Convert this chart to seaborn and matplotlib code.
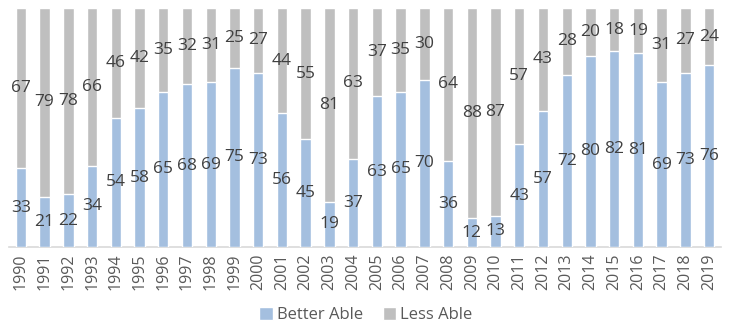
import matplotlib
matplotlib.use("Agg")
import matplotlib.pyplot as plt
import seaborn as sns
import pandas as pd
from matplotlib.patches import Patch

years = [str(y) for y in range(1990, 2020)]
better_able = [33, 21, 22, 34, 54, 58, 65, 68, 69, 75, 73, 56, 45, 19, 37,
               63, 65, 70, 36, 12, 13, 43, 57, 72, 80, 82, 81, 69, 73, 76]
less_able = [67, 79, 78, 66, 46, 42, 35, 32, 31, 25, 27, 44, 55, 81, 63,
             37, 35, 30, 64, 88, 87, 57, 43, 28, 20, 18, 19, 31, 27, 24]

blue = "#A4BFDF"
gray = "#BFBFBF"
text_color = "#404040"
tick_color = "#595959"

sns.set_theme(style="white")
plt.rcParams["font.family"] = ["Open Sans", "DejaVu Sans"]

df = pd.DataFrame({"year": years, "better": better_able, "less": less_able})
df["total"] = df["better"] + df["less"]

fig = plt.figure(figsize=(7.32, 3.26), dpi=100)
ax = fig.add_axes([9 / 732, 1 - 247 / 326, 712 / 732, 239 / 326])

# full stack (gray) drawn first, then the lower blue segment on top
sns.barplot(data=df, x="year", y="total", color=gray, width=0.44,
            saturation=1, ax=ax, zorder=2)
sns.barplot(data=df, x="year", y="better", color=blue, width=0.44,
            saturation=1, ax=ax, zorder=3)

for i, (b, l) in enumerate(zip(better_able, less_able)):
    ax.text(i, b / 2, str(b), ha="center", va="center", fontsize=12.5,
            color=text_color, zorder=5)
    ax.text(i, b + l / 2, str(l), ha="center", va="center", fontsize=12.5,
            color=text_color, zorder=5)

ax.set_ylim(0, 100)
ax.set_xlim(-0.5, len(years) - 0.5)
ax.set_xlabel("")
ax.set_ylabel("")
ax.set_yticks([])
for side in ["left", "right", "top"]:
    ax.spines[side].set_visible(False)
ax.spines["bottom"].set_color("#D9D9D9")
ax.spines["bottom"].set_linewidth(1.2)
ax.tick_params(axis="x", length=0, pad=5, labelsize=11.5,
               labelcolor=tick_color, rotation=90)

handles = [Patch(facecolor=blue, label="Better Able"),
           Patch(facecolor=gray, label="Less Able")]
fig.legend(handles=handles, loc="center", bbox_to_anchor=(0.5, 1 - 315 / 326),
           ncol=2, frameon=False, fontsize=12, labelcolor=tick_color,
           handlelength=0.8, handleheight=0.8, handletextpad=0.25,
           columnspacing=1.2)

fig.savefig("out.png", dpi=100)
